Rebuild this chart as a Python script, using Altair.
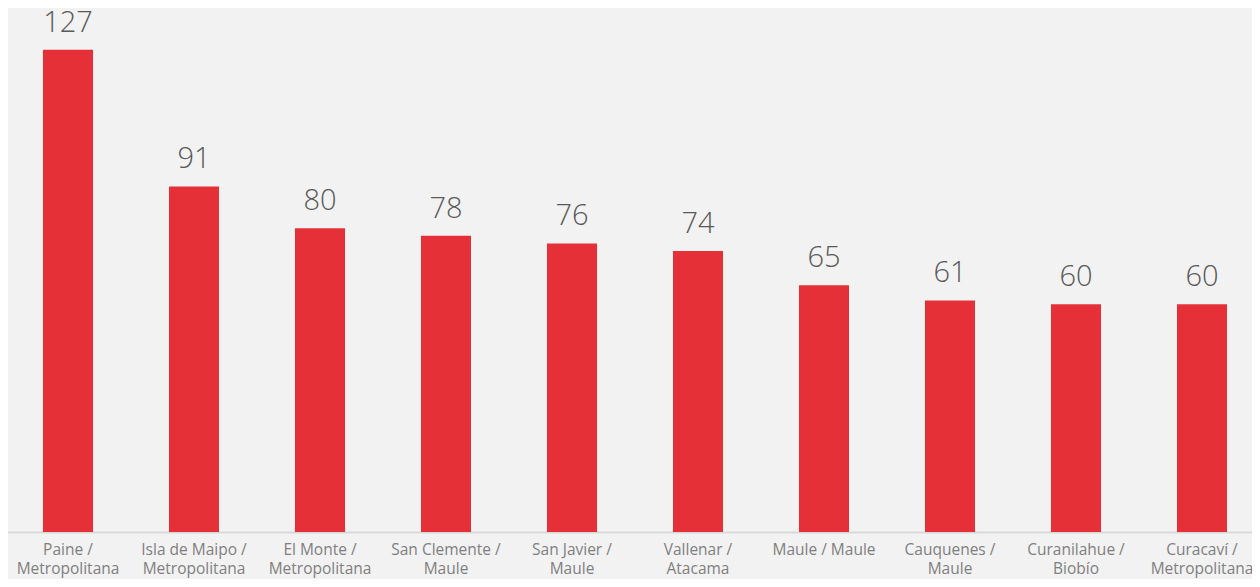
import altair as alt
import pandas as pd

categories = [
    "Paine /\nMetropolitana",
    "Isla de Maipo /\nMetropolitana",
    "El Monte /\nMetropolitana",
    "San Clemente /\nMaule",
    "San Javier /\nMaule",
    "Vallenar /\nAtacama",
    "Maule / Maule",
    "Cauquenes /\nMaule",
    "Curanilahue /\nBiobío",
    "Curacaví /\nMetropolitana",
]
values = [127, 91, 80, 78, 76, 74, 65, 61, 60, 60]

df = pd.DataFrame({"cat": categories, "val": values})

x = alt.X(
    "cat:N",
    sort=None,
    title=None,
    scale=alt.Scale(range=[-3, 1257], paddingInner=0.603, paddingOuter=0.3015),
    axis=alt.Axis(
        labelExpr="split(datum.label, '\\n')",
        labelAngle=0,
        labelFont="Open Sans",
        labelFontSize=15.5,
        labelColor="#7f7f7f",
        labelLineHeight=19,
        labelPadding=10,
        ticks=False,
        domainColor="#d9d9d9",
        domainWidth=2,
        labelLimit=200,
    ),
)
y = alt.Y("val:Q", scale=alt.Scale(domain=[0, 138]), axis=None)

bars = alt.Chart(df).mark_bar(color="#e53037").encode(x=x, y=y)
text = alt.Chart(df).mark_text(
    dy=-18, baseline="alphabetic", font="Open Sans", fontWeight=300,
    fontSize=29, color="#595959"
).encode(x=x, y=y, text="val:Q")

chart = (
    (bars + text)
    .properties(
        width=1244,
        height=524,
        background="#f2f2f2",
        padding={"left": 0, "top": 0, "right": 0, "bottom": 47},
        autosize=alt.AutoSizeParams(type="none"),
    )
    .configure_view(stroke=None)
)
chart.save("out.html", embed_options={"renderer": "svg", "actions": False})
